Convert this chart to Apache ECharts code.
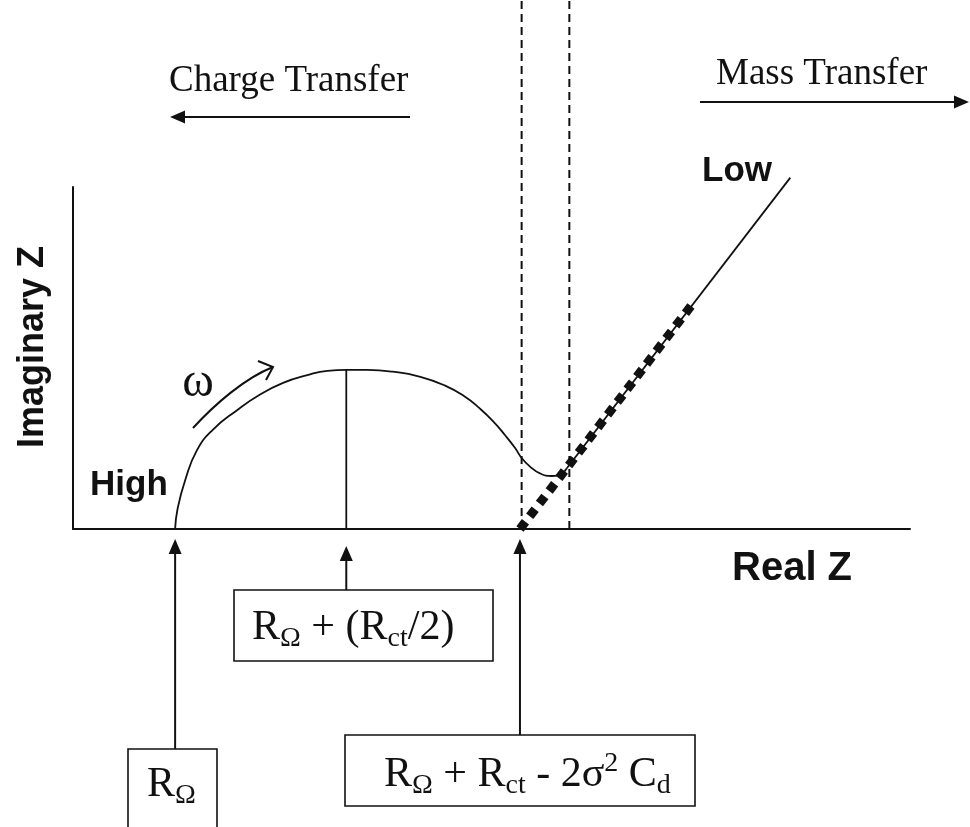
<!DOCTYPE html>
<html>
<head>
<meta charset="utf-8">
<script src="https://cdn.jsdelivr.net/npm/echarts@6/dist/echarts.min.js"></script>
<style>
  html, body { margin: 0; padding: 0; background: #fff; }
  #chart { width: 970px; height: 827px; }
</style>
</head>
<body>
<div id="chart"></div>
<script>
// Nyquist plot of an electrode: charge-transfer semicircle followed by a Warburg (diffusion) tail.

// Characteristic resistances (Real Z units)
const rOhm = 12.2;             // solution resistance R_Ω
const rCt = 40.9;              // charge-transfer resistance R_ct
const warburgIntercept = 53.4; // R_Ω + R_ct - 2σ²C_d

// Measured spectrum, high frequency (left) to the start of the diffusion tail
const arcX = [12.2, 12.5, 13.4, 14.8, 16.7, 19.6, 22.3, 25.1, 28.0, 30.4, 32.7, 35.1, 38.2, 41.5, 44.4, 46.8, 48.6, 50.2, 51.6, 52.8, 53.6, 54.6, 55.8, 57.2, 58.4, 59.0];
const arcY = [0.0, 2.4, 5.7, 9.2, 11.6, 13.9, 15.7, 17.1, 18.0, 18.5, 18.6, 18.6, 18.4, 17.8, 16.8, 15.5, 14.1, 12.6, 11.0, 9.5, 8.3, 7.3, 6.5, 6.2, 6.5, 7.1];

// Low-frequency diffusion tail (straight line)
const tailX = [59.0, 85.7];
const tailY = [7.1, 41.1];

// Extrapolated Warburg line down to the real axis
const warburgX = [warburgIntercept, 74.0];
const warburgY = [0.0, 26.3];

// Boundaries of the mixed-control region
const boundaryX = [53.6, 59.3];
const boundaryTop = 61.9;

// Semicircle apex (R_Ω + R_ct/2)
const apexY = 18.6;

const ink = '#111';
const pairs = (xs, ys) => xs.map((x, i) => [x, ys[i]]);

const chart = echarts.init(document.getElementById('chart'), null, { renderer: 'canvas' });

const hiddenAxis = {
  type: 'value',
  axisTick: { show: false },
  axisLabel: { show: false },
  splitLine: { show: false }
};

chart.setOption({
  animation: false,
  backgroundColor: '#ffffff',
  grid: { left: 73, top: 187, width: 837, height: 342 },
  xAxis: Object.assign({}, hiddenAxis, {
    min: 0, max: 100,
    axisLine: { show: true, onZero: false, lineStyle: { color: ink, width: 2 } }
  }),
  yAxis: Object.assign({}, hiddenAxis, {
    min: 0, max: 40,
    axisLine: { show: true, onZero: false, lineStyle: { color: ink, width: 2 } }
  }),
  series: [
    {
      name: 'charge transfer arc', type: 'line', clip: false, smooth: 0.5,
      symbol: 'none', data: pairs(arcX, arcY),
      lineStyle: { color: ink, width: 1.8 }
    },
    {
      name: 'diffusion tail', type: 'line', clip: false,
      symbol: 'none', data: pairs(tailX, tailY),
      lineStyle: { color: ink, width: 1.8 }
    },
    {
      name: 'Warburg extrapolation', type: 'line', clip: false,
      symbol: 'none', data: pairs(warburgX, warburgY),
      lineStyle: { color: ink, width: 9, type: [9, 7], cap: 'butt' }
    },
    {
      name: 'apex', type: 'line', clip: false, symbol: 'none',
      data: [[rOhm + rCt / 2, 0], [rOhm + rCt / 2, apexY]],
      lineStyle: { color: ink, width: 1.8 }
    },
    ...boundaryX.map(bx => ({
      name: 'boundary', type: 'line', clip: false, symbol: 'none',
      data: [[bx, 0], [bx, boundaryTop]],
      lineStyle: { color: ink, width: 2, type: [8, 5] }
    }))
  ]
});

// ---- annotations ----
const px = (x, y) => chart.convertToPixel({ gridIndex: 0 }, [x, y]);

function arrow(x1, y1, x2, y2) {
  const ang = Math.atan2(y2 - y1, x2 - x1);
  const len = 15, half = 6.5;
  const bx = x2 - len * Math.cos(ang), by = y2 - len * Math.sin(ang);
  const nx = -Math.sin(ang), ny = Math.cos(ang);
  return [
    { type: 'line', shape: { x1, y1, x2: bx, y2: by }, style: { stroke: ink, lineWidth: 2 } },
    { type: 'polygon', shape: { points: [[x2, y2], [bx + nx * half, by + ny * half], [bx - nx * half, by - ny * half]] },
      style: { fill: ink } }
  ];
}

const serif = '"Liberation Serif", "Times New Roman", serif';
const sans = '"Liberation Sans", Arial, sans-serif';

const richStyles = {
  r: { fontFamily: serif, fontSize: 42, lineHeight: 50, fill: ink },
  s: { fontFamily: serif, fontSize: 28, lineHeight: 28, verticalAlign: 'bottom', fill: ink },
  p: { fontFamily: serif, fontSize: 28, lineHeight: 28, verticalAlign: 'top', fill: ink }
};

function box(x, y, w, h) {
  return { type: 'rect', shape: { x, y, width: w, height: h },
           style: { fill: 'none', stroke: ink, lineWidth: 1.6 } };
}
function richText(x, y, text) {
  return { type: 'text', x, y, style: { text, rich: richStyles, textAlign: 'left', textVerticalAlign: 'top' } };
}
function label(x, y, text, font, align, rotation) {
  return { type: 'text', x, y, rotation: rotation || 0,
           style: { text, font, fill: ink, textAlign: align || 'left', textVerticalAlign: 'middle' } };
}

const xR = px(rOhm, 0)[0];
const xMid = px(rOhm + rCt / 2, 0)[0];
const xInt = px(warburgIntercept, 0)[0];

const graphics = [
  // region headings
  label(169, 81, 'Charge Transfer', '37px ' + serif),
  ...arrow(410, 117, 170, 117),
  label(716, 74, 'Mass Transfer', '37px ' + serif),
  ...arrow(700, 102, 969, 102),

  // axis titles
  label(33, 347, 'Imaginary Z', 'bold 36px ' + sans, 'center', Math.PI / 2),
  label(732, 569, 'Real Z', 'bold 40px ' + sans),

  // frequency markers
  label(90, 485, 'High', 'bold 35px ' + sans),
  label(702, 171, 'Low', 'bold 35px ' + sans),
  label(198, 383, 'ω', '48px ' + serif, 'center'),
  { type: 'bezierCurve', shape: { x1: 193, y1: 428, cpx1: 215, cpy1: 404, cpx2: 245, cpy2: 378, x2: 273, y2: 367 },
    style: { stroke: ink, lineWidth: 2, fill: 'none' } },
  { type: 'polyline', shape: { points: [[258, 361], [273, 367], [266, 380]] },
    style: { stroke: ink, lineWidth: 2, fill: 'none' } },

  // pointers to the real axis
  ...arrow(xR, 749, xR, 539),
  ...arrow(xMid, 590, xMid, 546),
  ...arrow(xInt, 735, xInt, 539),

  // value boxes
  box(128, 749, 89, 100),
  richText(147, 760, '{r|R}{s|Ω}'),
  box(234, 590, 259, 71),
  richText(252, 603, '{r|R}{s|Ω}{r| + (R}{s|ct}{r|/2)}'),
  box(345, 735, 350, 71),
  richText(384, 750, '{r|R}{s|Ω}{r| + R}{s|ct}{r| - 2σ}{p|2}{r| C}{s|d}')
];

chart.setOption({ graphic: graphics });
</script>
</body>
</html>
